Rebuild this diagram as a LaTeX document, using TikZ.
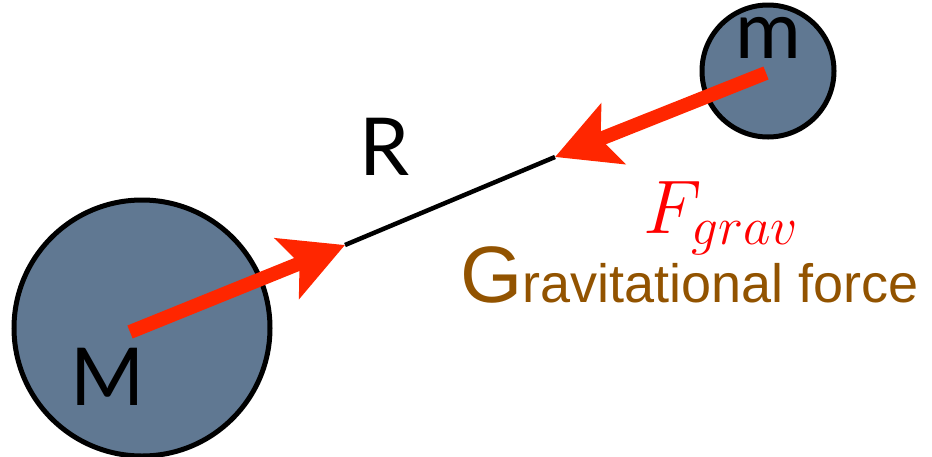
\documentclass[tikz,border=0pt]{standalone}
\usepackage{fix-cm}
\usepackage{fontspec}
\setsansfont{Lato}
\newfontfamily\helvfont{Liberation Sans}
\usetikzlibrary{arrows.meta}

\definecolor{planet}{RGB}{96,120,146}
\definecolor{forcered}{RGB}{255,38,0}
\definecolor{labelbrown}{RGB}{146,83,0}

\tikzset{
    body/.style={circle, draw=black, line width=5pt, fill=planet, inner sep=0pt},
    force/.style={forcered, line width=14pt, -{Stealth[length=62pt, width=64pt, inset=13pt]}},
    letter/.style={font=\sffamily\fontsize{80}{80}\selectfont, inner sep=0pt, anchor=base}
}

\begin{document}
\begin{tikzpicture}[x=1pt, y=-1pt]
    \useasboundingbox (0,0) rectangle (932,456);

    % the two bodies
    \node[body, minimum size=256pt] (M) at (142,328) {};
    \node[body, minimum size=132pt] (m) at (768,71) {};

    \coordinate (startM) at (130,332);
    \coordinate (startm) at (766,73);
    \coordinate (tipM) at (345,245);
    \coordinate (tipm) at (555,157);

    \draw[line width=4.5pt] (tipM) -- (tipm);
    \draw[force] (startM) -- (tipM);
    \draw[force] (startm) -- (tipm); % pulls m towards M

    \node[letter] (labelM) at (108,405) {M};
    \node[letter, text height=41pt] (labelm) at (768,58) {m};
    \node[letter] (labelR) at (385,175) {R};

    \node[red, anchor=base west, inner sep=0pt, font=\fontsize{76}{76}\selectfont] (fgrav) at (643,233) {$F_{grav}$};
    \node[labelbrown, anchor=base west, inner sep=0pt, font=\helvfont] (gforce) at (460,302)
        {{\fontsize{80}{80}\selectfont G}\fontsize{54}{54}\selectfont ravitational force};
\end{tikzpicture}
\end{document}
